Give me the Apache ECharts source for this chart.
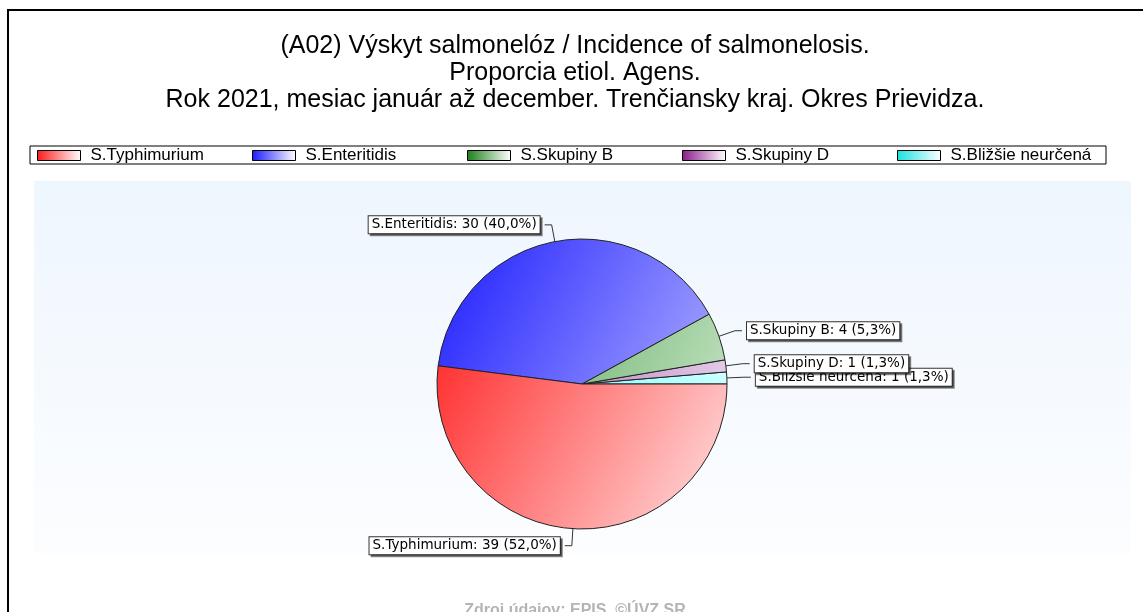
<!DOCTYPE html>
<html>
<head>
<meta charset="utf-8">
<script src="https://cdn.jsdelivr.net/npm/echarts@6/dist/echarts.min.js"></script>
<style>
html,body{margin:0;padding:0;background:#fff;}
#c{width:1143px;height:612px;}
</style>
</head>
<body>
<div id="c"></div>
<script>
var titleLines = [
  '(A02) Výskyt salmonelóz / Incidence of salmonelosis.',
  'Proporcia etiol. Agens.',
  'Rok 2021, mesiac január až december. Trenčiansky kraj. Okres Prievidza.'
];
var categories = ['S.Typhimurium', 'S.Enteritidis', 'S.Skupiny B', 'S.Skupiny D', 'S.Bližšie neurčená'];
var values = [39, 30, 4, 1, 1];
var sourceText = 'Zdroj údajov: EPIS, ©ÚVZ SR';

var pieGrad = [
  ['#ff3232', '#ffe2e2'],
  ['#1c1cff', '#a4a4ff'],
  ['#7cbc7c', '#bcdebc'],
  ['#c08cc8', '#e4cce8'],
  ['#8cffff', '#ccffff']
];
var legGrad = [
  ['#ff1a1a', '#ffffff'],
  ['#1a1aff', '#ffffff'],
  ['#1a801a', '#ffffff'],
  ['#8a1a8a', '#ffffff'],
  ['#1ae0e0', '#ffffff']
];

function lg(c, diag) {
  return new echarts.graphic.LinearGradient(0, 0, 1, diag ? 1 : 0, [
    {offset: 0, color: c[0]}, {offset: 1, color: c[1]}
  ]);
}

var legends = categories.map(function (n, i) {
  return {
    left: 37 + 215 * i, top: 147,
    icon: 'rect',
    itemWidth: 43, itemHeight: 10,
    padding: 0,
    selectedMode: false,
    textStyle: {fontFamily: 'Liberation Sans, Arial', fontSize: 17, color: '#000', padding: [0, 0, 0, 5]},
    data: [{name: n, itemStyle: {color: lg(legGrad[i], false), borderColor: '#000', borderWidth: 1}}]
  };
});

// reversed drawing order so the overlapping labels stack as in the reference
var order = [4, 3, 2, 1, 0];

var chart = echarts.init(document.getElementById('c'), null, {renderer: 'canvas'});
var option = {
  animation: false,
  backgroundColor: '#fff',
  graphic: [
    {type: 'rect', z: -10, shape: {x: 8, y: 10, width: 1200, height: 700}, style: {fill: '#fff', stroke: '#000', lineWidth: 2}},
    {type: 'rect', z: -5, shape: {x: 30, y: 146, width: 1076, height: 18}, style: {fill: '#fff', stroke: '#000', lineWidth: 1}},
    {type: 'rect', z: -5, shape: {x: 34, y: 181, width: 1097, height: 372},
      style: {fill: new echarts.graphic.LinearGradient(0, 0, 0, 1, [{offset: 0, color: '#eef6fe'}, {offset: 1, color: '#fcfdff'}])}}
  ],
  title: [{
    text: titleLines.join('\n'),
    left: 570, top: 28, textAlign: 'center',
    textStyle: {fontFamily: 'Liberation Sans, Arial', fontSize: 25, fontWeight: 'normal', color: '#000', lineHeight: 27}
  }, {
    text: sourceText,
    left: 570, top: 598, textAlign: 'center',
    textStyle: {fontFamily: 'Liberation Sans, Arial', fontSize: 16, fontWeight: 'bold', color: '#b4b4b4'}
  }],
  legend: legends,
  series: [{
    type: 'pie',
    center: [582, 384],
    radius: 145,
    startAngle: 0,
    clockwise: false,
    avoidLabelOverlap: false,
    labelLayout: {hideOverlap: false},
    itemStyle: {borderColor: '#222', borderWidth: 1},
    label: {
      show: true,
      position: 'outside',
      alignTo: 'none',
      fontFamily: 'DejaVu Sans, Verdana',
      fontSize: 13.5,
      color: '#000',
      backgroundColor: '#fff',
      borderColor: '#333',
      borderWidth: 1,
      padding: [2, 3, 1, 3],
      shadowColor: 'rgba(0,0,0,0.45)',
      shadowOffsetX: 2,
      shadowOffsetY: 2,
      shadowBlur: 0,
      formatter: function (p) {
        return p.name + ': ' + p.value + ' (' + p.percent.toFixed(1).replace('.', ',') + '%)';
      }
    },
    labelLine: {show: true, length: 17, length2: 7, lineStyle: {color: '#333', width: 1}},
    emphasis: {disabled: true},
    data: order.map(function (i) {
      return {name: categories[i], value: values[i], itemStyle: {color: lg(pieGrad[i], true)}};
    })
  }]
};
chart.setOption(option);
</script>
</body>
</html>
